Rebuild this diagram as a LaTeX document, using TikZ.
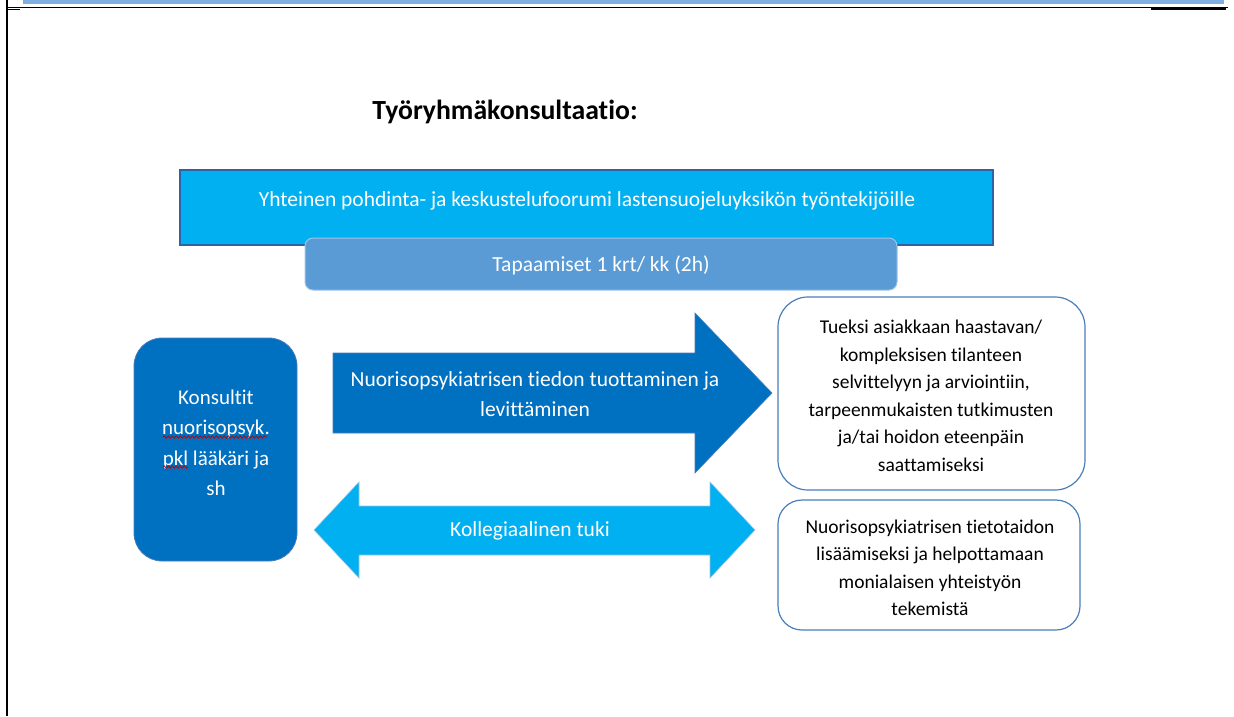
\documentclass[tikz,border=0pt]{standalone}
\usepackage{fontspec}
\setmainfont{Carlito}[Ligatures={NoCommon}]
\usetikzlibrary{decorations.pathmorphing}
\definecolor{cyanfill}{HTML}{00B0F0}
\definecolor{darkfill}{HTML}{0070C0}
\definecolor{midfill}{HTML}{5B9BD5}
\definecolor{rectedge}{HTML}{2E63A8}
\definecolor{boxedge}{HTML}{4A7EBB}
\definecolor{softedge}{HTML}{9DC3E6}
\definecolor{stripblue}{HTML}{7FAEDF}
\definecolor{spellred}{HTML}{C00000}
\begin{document}
\begin{tikzpicture}[x=1pt,y=-1pt,
  wtext/.style={text=white,align=center,inner sep=0pt},
  btext/.style={text=black,align=center,inner sep=0pt},
  wfont/.style={font=\fontsize{21.5}{30}\selectfont},
  bfont/.style={font=\fontsize{19.5}{27.5}\selectfont},
  wavy/.style={draw=spellred,line width=0.8pt,decorate,decoration={snake,amplitude=1.2pt,segment length=4pt}}]
\useasboundingbox (0,0) rectangle (1234,716);
% page frame fragments
\fill[stripblue] (23,0) rectangle (1224,3.5);
\draw[line width=2pt] (7,0) -- (7,716);
\draw[line width=1pt] (7,7) -- (1228,7);
\draw[line width=1.6pt] (7,9.5) -- (20,9.5);
\draw[line width=2.2pt] (1151,8.5) -- (1226,8.5);
% title
\node[btext,font=\bfseries\fontsize{27.7}{32}\selectfont] (title) at (505,112) {Työryhmäkonsultaatio:};
% forum rectangle
\draw[fill=cyanfill,draw=rectedge,line width=1.8pt] (180,170) rectangle (993,245);
\node[wtext,wfont] (forum) at (587,201) {Yhteinen pohdinta- ja keskustelufoorumi lastensuojeluyksikön työntekijöille};
% meetings
\draw[fill=midfill,draw=softedge,line width=1pt,rounded corners=8pt] (305,238) rectangle (897,290);
\node[wtext,wfont] (meet) at (601,265) {Tapaamiset 1 krt/ kk (2h)};
% consultants box
\draw[fill=darkfill,draw=boxedge,line width=0.8pt,rounded corners=28pt] (134,338) rectangle (297,561);
\node[wtext,font=\fontsize{21}{30.5}\selectfont] (kons) at (216,443) {Konsultit\\nuorisopsyk.\\pkl lääkäri ja\\sh};
\draw[wavy] (163,437) -- (267,437);
\draw[wavy] (163,467) -- (188,467);
% right arrow
\draw[fill=darkfill,draw=boxedge,line width=0.6pt] (333,353) -- (695,353) -- (695,313) -- (772,393) -- (695,473) -- (695,433) -- (333,433) -- cycle;
\node[wtext,wfont] (tieto) at (535,394) {Nuorisopsykiatrisen tiedon tuottaminen ja\\levittäminen};
% double arrow
\draw[fill=cyanfill,draw=softedge,line width=0.6pt] (314,530) -- (359,482) -- (359,506) -- (710,506) -- (710,482) -- (755,530) -- (710,578) -- (710,555) -- (359,555) -- (359,578) -- cycle;
\node[wtext,wfont] (tuki) at (530,531) {Kollegiaalinen tuki};
% right boxes
\draw[fill=white,draw=boxedge,line width=1.2pt,rounded corners=30pt] (778,297) rectangle (1085,490);
\node[btext,bfont] (tueksi) at (931,396) {Tueksi asiakkaan haastavan/\\kompleksisen tilanteen\\selvittelyyn ja arviointiin,\\tarpeenmukaisten tutkimusten\\ja/tai hoidon eteenpäin\\saattamiseksi};
\draw[fill=white,draw=boxedge,line width=1.2pt,rounded corners=24pt] (778,500) rectangle (1080,630);
\node[btext,bfont] (taito) at (930,568) {Nuorisopsykiatrisen tietotaidon\\lisäämiseksi ja helpottamaan\\monialaisen yhteistyön\\tekemistä};
\end{tikzpicture}
\end{document}
